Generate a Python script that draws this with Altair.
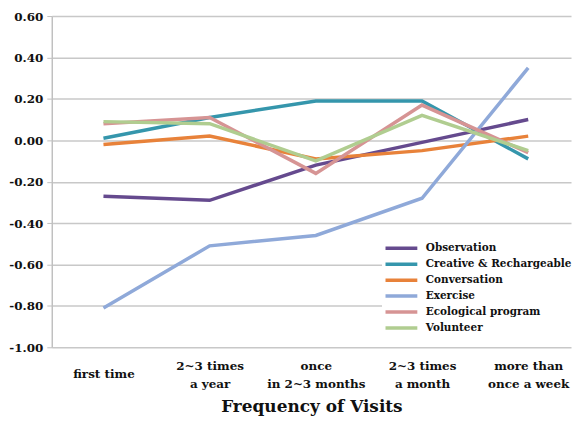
import altair as alt
import pandas as pd

categories = ["first time", "2~3 times|a year", "once|in 2~3 months", "2~3 times|a month", "more than|once a week"]
series = ["Observation", "Creative & Rechargeable", "Conversation", "Exercise", "Ecological program", "Volunteer"]
observation = [-0.27, -0.29, -0.12, -0.01, 0.10]
creative = [0.01, 0.11, 0.19, 0.19, -0.09]
conversation = [-0.02, 0.02, -0.09, -0.05, 0.02]
exercise = [-0.81, -0.51, -0.46, -0.28, 0.35]
ecological = [0.08, 0.11, -0.16, 0.17, -0.06]
volunteer = [0.09, 0.08, -0.10, 0.12, -0.05]
colors = ["#654a8e", "#3596ac", "#e8823a", "#8fa9d9", "#d69494", "#b0cd90"]

values = [observation, creative, conversation, exercise, ecological, volunteer]
rows = []
for s, vals in zip(series, values):
    for c, v in zip(categories, vals):
        rows.append({"freq": c, "series": s, "value": v})
df = pd.DataFrame(rows)

font = "DejaVu Serif"

chart = alt.Chart(df).mark_line(strokeWidth=3.5).encode(
    x=alt.X("freq:N", sort=categories, scale=alt.Scale(padding=0.445, align=0.547),
            axis=alt.Axis(title="Frequency of Visits", labelAngle=0,
                          labelExpr="split(datum.label, '|')",
                          labelBaseline="top",
                          labelPadding={"condition": {"test": "datum.value == 'first time'", "value": 21}, "value": 13},
                          labelOverlap=False,
                          labelFont=font, labelFontWeight="bold", labelFontSize=12,
                          labelColor="#111", labelLineHeight=18,
                          titleFont=font, titleFontWeight="bold", titleFontSize=17,
                          titleColor="#111", titlePadding=10,
                          ticks=False, domain=False, grid=False)),
    y=alt.Y("value:Q", scale=alt.Scale(domain=[-1.0, 0.6], nice=False),
            axis=alt.Axis(title=None, values=[-1.0, -0.8, -0.6, -0.4, -0.2, 0.0, 0.2, 0.4, 0.6],
                          labelExpr="(datum.value < -0.001 ? '-' : '') + format(abs(datum.value), '.2f')",
                          labelFont=font, labelFontWeight="bold", labelFontSize=12,
                          labelColor="#111", labelPadding=4,
                          tickSize=5, tickColor="#c0c0c0", domainColor="#c0c0c0",
                          domainWidth=1.5, gridColor="#c8c8c8", gridWidth=1.5)),
    color=alt.Color("series:N", sort=series,
                    scale=alt.Scale(domain=series, range=colors),
                    legend=alt.Legend(title=None, orient="none", legendX=332, legendY=222,
                                      fillColor="white", padding=3,
                                      symbolType="M-1.23,0L3.69,0", symbolStrokeWidth=3.5,
                                      symbolSize=169, labelFont=font,
                                      labelFontWeight="bold", labelFontSize=10.5,
                                      labelColor="#111", rowPadding=0, labelOffset=24)),
    order=alt.Order("series:N"),
).properties(width=522, height=333, padding={"left": 0, "top": 1, "right": 0, "bottom": 4}
).configure_view(stroke=None)

chart.save("out.html", embed_options={"renderer": "svg", "actions": False})
